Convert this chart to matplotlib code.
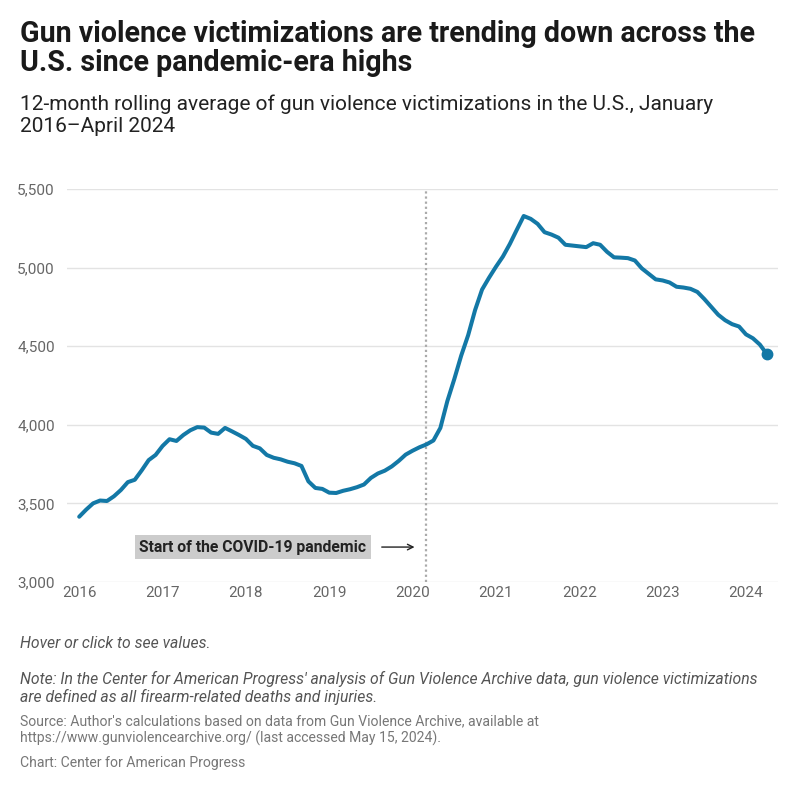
import matplotlib
matplotlib.use("Agg")
import matplotlib.pyplot as plt
import numpy as np

plt.rcParams['font.family'] = ['Roboto', 'DejaVu Sans']

# Monthly values, January 2016 - April 2024
values = [
    3415, 3460, 3500, 3518, 3515, 3545, 3585, 3635, 3650, 3710, 3775, 3808,   # 2016
    3865, 3908, 3897, 3935, 3965, 3985, 3982, 3950, 3942, 3980, 3958, 3935,   # 2017
    3910, 3866, 3850, 3808, 3790, 3780, 3765, 3755, 3738, 3640, 3598, 3592,   # 2018
    3568, 3566, 3580, 3590, 3603, 3620, 3662, 3690, 3708, 3735, 3770, 3810,   # 2019
    3835, 3857, 3875, 3900, 3980, 4150, 4290, 4440, 4570, 4730, 4860, 4935,   # 2020
    5005, 5070, 5150, 5240, 5328, 5310, 5278, 5225, 5210, 5190, 5145, 5140,   # 2021
    5135, 5130, 5155, 5145, 5100, 5065, 5063, 5060, 5045, 4995, 4960, 4925,   # 2022
    4918, 4905, 4878, 4873, 4865, 4845, 4800, 4750, 4700, 4665, 4640, 4625,   # 2023
    4575, 4550, 4510, 4450,                                                   # 2024
]
start_year = 2016
x_ticks = [2016, 2017, 2018, 2019, 2020, 2021, 2022, 2023, 2024]
x_tick_labels = ["2016", "2017", "2018", "2019", "2020", "2021", "2022", "2023", "2024"]
y_ticks = [3000, 3500, 4000, 4500, 5000, 5500]
y_tick_labels = ["3,000", "3,500", "4,000", "4,500", "5,000", "5,500"]
pandemic_start = 2020 + 2 / 12  # March 2020

years = start_year + np.arange(len(values)) / 12.0

fig = plt.figure(figsize=(8, 7.92), dpi=100)
ax = fig.add_axes([0.084, 0.2652, 0.8885, 0.4962])

line_color = '#1378a6'
ax.plot(years, values, color=line_color, lw=2.9, solid_capstyle='round', solid_joinstyle='round', zorder=3)
ax.plot(years[-1], values[-1], 'o', color=line_color, ms=7.5, zorder=4)

ax.set_ylim(3000, 5500)
ax.set_xlim(2016 - 12 / 83.3, 2024 + 32 / 83.3)
ax.set_yticks(y_ticks)
ax.set_yticklabels(y_tick_labels)
ax.set_xticks(x_ticks)
ax.set_xticklabels(x_tick_labels)
ax.grid(axis='y', color='#e3e3e3', lw=1)
ax.grid(axis='x', visible=False)
for s in ax.spines.values():
    s.set_visible(False)
ax.tick_params(axis='both', length=0, labelsize=11, labelcolor='#666666')
ax.tick_params(axis='y', pad=9)
ax.tick_params(axis='x', pad=3)

# Pandemic line
ax.axvline(pandemic_start, color='#aaaaaa', lw=1.6, ls=(0, (1, 1.3)), zorder=2)

ax.annotate('', xy=(pandemic_start - 0.11, 3222), xytext=(pandemic_start - 0.57, 3222),
            arrowprops=dict(arrowstyle='->', color='#222222', lw=1.0))
ax.text(pandemic_start - 0.72, 3222, 'Start of the COVID-19 pandemic', ha='right', va='center',
        fontsize=11.3, fontweight='bold', color='#222222',
        bbox=dict(boxstyle='square,pad=0.3', fc='#cccccc', ec='none'))

# Titles
fig.text(20 / 800, 1 - 20 / 792, 'Gun violence victimizations are trending down across the\nU.S. since pandemic-era highs',
         ha='left', va='top', fontsize=20.6, fontweight='bold', color='#1a1a1a', linespacing=1.05)
fig.text(20 / 800, 1 - 94 / 792, '12-month rolling average of gun violence victimizations in the U.S., January\n2016\u2013April 2024',
         ha='left', va='top', fontsize=15, color='#222222', linespacing=1.2)

# Footer
fig.text(20 / 800, 1 - 643 / 792, 'Hover or click to see values.', ha='left', va='center',
         fontsize=11.3, style='italic', color='#555555')
fig.text(20 / 800, 1 - 671 / 792,
         "Note: In the Center for American Progress' analysis of Gun Violence Archive data, gun violence victimizations\nare defined as all firearm-related deaths and injuries.",
         ha='left', va='top', fontsize=11.3, style='italic', color='#555555', linespacing=1.15)
fig.text(20 / 800, 1 - 714 / 792,
         "Source: Author's calculations based on data from Gun Violence Archive, available at\nhttps://www.gunviolencearchive.org/ (last accessed May 15, 2024).",
         ha='left', va='top', fontsize=10.1, color='#777777', linespacing=1.25)
fig.text(20 / 800, 1 - 763 / 792, 'Chart: Center for American Progress', ha='left', va='center',
         fontsize=10.1, color='#777777')

fig.savefig('out.png', dpi=100)
